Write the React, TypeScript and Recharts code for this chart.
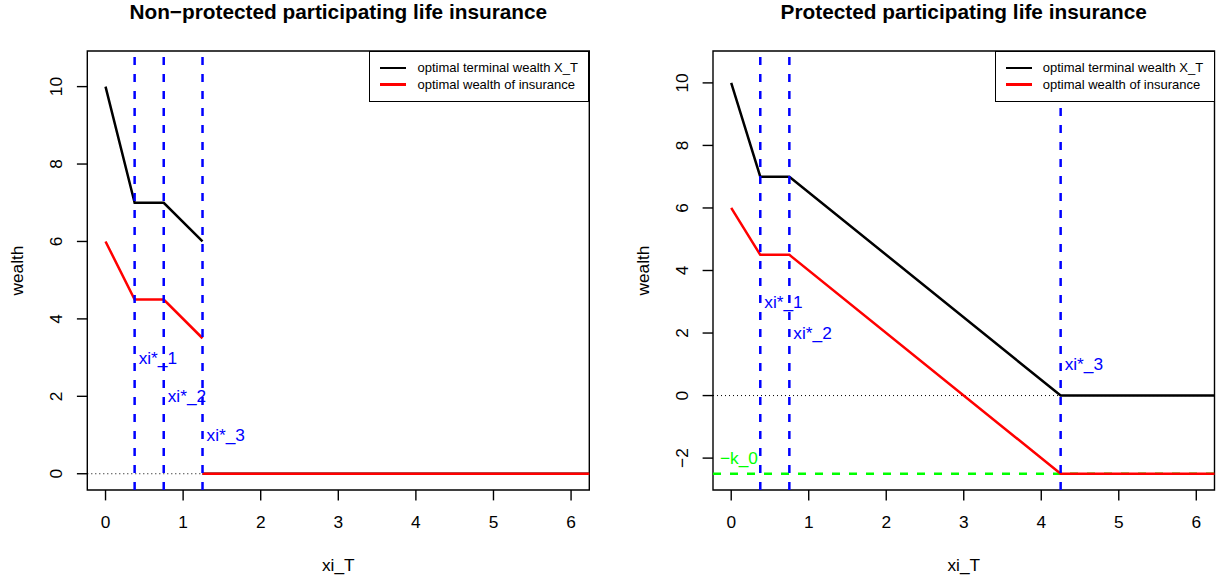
import {
  LineChart,
  Line,
  XAxis,
  YAxis,
  ReferenceLine,
  ReferenceDot,
  ReferenceArea,
  Legend,
} from "recharts";

const FONT = '"Liberation Sans", Arial, Helvetica, sans-serif';
const BASE = 17.3;

const xTicks = [0, 1, 2, 3, 4, 5, 6];
const xDomain = [-0.235, 6.235];

// non-protected contract
const npXi = [0, 0.375, 0.75, 1.25, 1.25, 1.25, 7];
const npTerminal = [10, 7, 7, 6, null, 0, 0];
const npInsurance = [6, 4.5, 4.5, 3.5, null, 0, 0];
const npThresholds = [0.375, 0.75, 1.25];
const npYTicks = [0, 2, 4, 6, 8, 10];
const npYDomain = [-0.42, 10.92];

// protected contract
const pXi = [0, 0.375, 0.75, 4.25, 7];
const pTerminal = [10, 7, 7, 0, 0];
const pInsurance = [6, 4.5, 4.5, -2.5, -2.5];
const pThresholds = [0.375, 0.75, 4.25];
const pYTicks = [-2, 0, 2, 4, 6, 8, 10];
const pYDomain = [-3.02, 11.02];
const k0 = -2.5;

const thresholdLabels = ["xi*_1", "xi*_2", "xi*_3"];
const thresholdLabelY = [3, 2, 1];
const legendLabels = ["optimal terminal wealth X_T", "optimal wealth of insurance"];
const legendColors = ["#000000", "#ff0000"];

const PLOT_TOP = 51;
const PLOT_BOTTOM = 490;
const W = 612;
const H = 581;

const fmt = (v: number) => (v < 0 ? "\u2212" + Math.abs(v) : String(v));

type PanelProps = {
  title: string;
  xi: number[];
  terminal: (number | null)[];
  insurance: (number | null)[];
  thresholds: number[];
  yTicks: number[];
  yDomain: number[];
  plotLeft: number;
  rightMargin: number;
  floor?: number;
};

function Panel(p: PanelProps) {
  const terminalData = p.xi.map((x, i) => ({ x, y: p.terminal[i] }));
  const insuranceData = p.xi.map((x, i) => ({ x, y: p.insurance[i] }));
  const plotRight = W - p.rightMargin;
  const legendW = 220;

  const xTick = (props: any) => (
    <text
      x={props.x}
      y={PLOT_BOTTOM + 31.7}
      textAnchor="middle"
      dominantBaseline="central"
      fontSize={BASE}
      fontFamily={FONT}
      fill="#000"
    >
      {fmt(props.payload.value)}
    </text>
  );

  const yTick = (props: any) => (
    <text
      transform={`translate(${p.plotLeft - 31},${props.y}) rotate(-90)`}
      textAnchor="middle"
      dominantBaseline="central"
      fontSize={BASE}
      fontFamily={FONT}
      fill="#000"
    >
      {fmt(props.payload.value)}
    </text>
  );

  const xTitle = () => (
    <text
      x={(p.plotLeft + plotRight) / 2}
      y={PLOT_BOTTOM + 75}
      textAnchor="middle"
      dominantBaseline="central"
      fontSize={BASE}
      fontFamily={FONT}
      fill="#000"
    >
      xi_T
    </text>
  );

  const yTitle = () => (
    <text
      transform={`translate(${p.plotLeft - 70},${(PLOT_TOP + PLOT_BOTTOM) / 2}) rotate(-90)`}
      textAnchor="middle"
      dominantBaseline="central"
      fontSize={BASE}
      fontFamily={FONT}
      fill="#000"
    >
      wealth
    </text>
  );

  const legendBox = () => (
    <div
      style={{
        width: legendW,
        height: 50.7,
        border: "1.4px solid #000",
        boxSizing: "border-box",
        background: "#fff",
        position: "relative",
        fontFamily: FONT,
        fontSize: 13,
        color: "#000",
      }}
    >
      {legendLabels.map((t, i) => (
        <div
          key={t}
          style={{
            position: "absolute",
            left: 0,
            top: 17.3 + i * 16.7 - 1.4 - 8,
            height: 16,
            lineHeight: "16px",
            display: "flex",
            alignItems: "center",
            whiteSpace: "nowrap",
          }}
        >
          <span style={{ marginLeft: 10.2, width: 26, height: 2.5, background: legendColors[i] }} />
          <span style={{ marginLeft: 11 }}>{t}</span>
        </div>
      ))}
    </div>
  );

  return (
    <div style={{ position: "relative", width: W, height: H }}>
      <div
        style={{
          position: "absolute",
          left: p.plotLeft,
          width: plotRight - p.plotLeft,
          top: 0,
          height: 24,
          lineHeight: "24px",
          textAlign: "center",
          fontFamily: FONT,
          fontWeight: "bold",
          fontSize: 20.8,
          whiteSpace: "nowrap",
        }}
      >
        {p.title}
      </div>
      <LineChart
        width={W}
        height={H}
        margin={{ top: PLOT_TOP, right: p.rightMargin, bottom: 0, left: 0 }}
      >
        <XAxis
          dataKey="x"
          type="number"
          domain={xDomain}
          allowDataOverflow
          ticks={xTicks}
          interval={0}
          height={H - PLOT_BOTTOM}
          axisLine={false}
          tickSize={10.4}
          tickLine={{ stroke: "#000", strokeWidth: 1.4 }}
          tick={xTick}
          label={{ content: xTitle }}
        />
        <YAxis
          type="number"
          domain={p.yDomain}
          allowDataOverflow
          ticks={p.yTicks}
          interval={0}
          width={p.plotLeft}
          axisLine={false}
          tickSize={10.4}
          tickLine={{ stroke: "#000", strokeWidth: 1.4 }}
          tick={yTick}
          label={{ content: yTitle }}
        />
        <ReferenceArea
          x1={xDomain[0]}
          x2={xDomain[1]}
          y1={p.yDomain[0]}
          y2={p.yDomain[1]}
          fill="none"
          stroke="#000"
          strokeWidth={1.4}
          ifOverflow="visible"
        />
        <ReferenceLine y={0} stroke="#000" strokeWidth={1} strokeDasharray="1 3" />
        {p.floor !== undefined && (
          <ReferenceLine y={p.floor} stroke="#00ff00" strokeWidth={2.5} strokeDasharray="8 9" />
        )}
        <Line
          data={terminalData}
          dataKey="y"
          type="linear"
          stroke="#000000"
          strokeWidth={2.5}
          dot={false}
          isAnimationActive={false}
        />
        <Line
          data={insuranceData}
          dataKey="y"
          type="linear"
          stroke="#ff0000"
          strokeWidth={2.5}
          dot={false}
          isAnimationActive={false}
        />
        {p.thresholds.map((t) => (
          <ReferenceLine key={"v" + t} x={t} stroke="#0000ff" strokeWidth={2.5} strokeDasharray="8 9" />
        ))}
        {p.thresholds.map((t, i) => (
          <ReferenceDot
            key={"l" + t}
            x={t}
            y={thresholdLabelY[i]}
            r={0}
            fill="none"
            stroke="none"
            label={{
              value: thresholdLabels[i],
              position: "right",
              offset: 4,
              fill: "#0000ff",
              fontSize: BASE,
              fontFamily: FONT,
            }}
          />
        ))}
        {p.floor !== undefined && (
          <ReferenceDot
            x={0.1}
            y={-2}
            r={0}
            fill="none"
            stroke="none"
            label={{ value: "\u2212k_0", position: "center", fill: "#00ff00", fontSize: BASE, fontFamily: FONT }}
          />
        )}
        <Legend
          layout="vertical"
          align="center"
          verticalAlign="middle"
          content={legendBox}
          wrapperStyle={{ top: PLOT_TOP, left: plotRight - legendW, width: legendW, height: 50.7 }}
        />
      </LineChart>
    </div>
  );
}

export default function App() {
  return (
    <div style={{ position: "absolute", left: 0, top: 0, width: 1224, height: 581, display: "flex", background: "#fff" }}>
      <Panel
        title={"Non\u2212protected participating life insurance"}
        xi={npXi}
        terminal={npTerminal}
        insurance={npInsurance}
        thresholds={npThresholds}
        yTicks={npYTicks}
        yDomain={npYDomain}
        plotLeft={87.3}
        rightMargin={22.7}
      />
      <Panel
        title="Protected participating life insurance"
        xi={pXi}
        terminal={pTerminal}
        insurance={pInsurance}
        thresholds={pThresholds}
        yTicks={pYTicks}
        yDomain={pYDomain}
        plotLeft={101}
        rightMargin={9.5}
        floor={k0}
      />
    </div>
  );
}
